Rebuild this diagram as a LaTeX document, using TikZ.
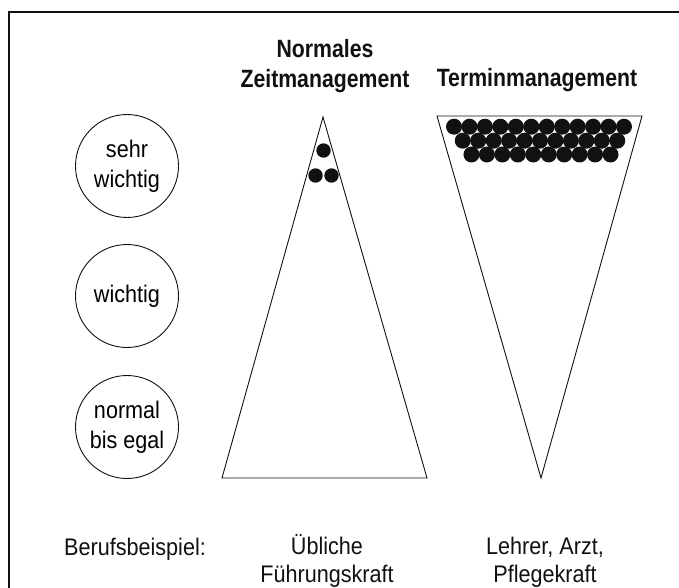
\documentclass[tikz,border=0pt]{standalone}
\usepackage{fontspec}
\setmainfont{Liberation Sans}
\newfontfamily\headfont[FakeStretch=0.85]{Liberation Sans}
\newfontfamily\bodyfont[FakeStretch=0.9]{Liberation Sans}
\usetikzlibrary{positioning}
\definecolor{inkblack}{HTML}{111111}

\tikzset{
  level/.style={draw=inkblack, circle, line width=0.9pt, minimum size=103pt,
    inner sep=0pt, align=center, font=\bodyfont\fontsize{24}{30}\selectfont},
  headtext/.style={font=\headfont\bfseries\fontsize{25}{30}\selectfont,
    align=center, inner sep=0pt, text=inkblack},
  bodytext/.style={font=\bodyfont\fontsize{24}{28}\selectfont, align=center,
    inner sep=0pt, text=inkblack},
  shapeline/.style={draw=inkblack, line width=0.9pt, line join=miter},
  ball/.style={fill=inkblack}
}

\begin{document}
\begin{tikzpicture}[x=1pt, y=-1pt]
    \useasboundingbox (0,0) rectangle (679,588);
    \fill[white] (0,0) rectangle (679,588);
    \draw[inkblack, line width=1.3pt] (9,588) -- (9,12) -- (679,12);

    % Wichtigkeit
    \node[level] (sehr) at (127,166) {sehr\\wichtig};
    \node[level] (wichtig) at (127,296) {wichtig};
    \node[level] (egal) at (127,427) {normal\\bis egal};

    % Normales Zeitmanagement
    \coordinate (zspitze) at (323,117);
    \coordinate (zlinks) at (222,478);
    \coordinate (zrechts) at (427,478);
    \draw[shapeline] (zspitze) -- (zrechts) -- (zlinks) -- cycle;
    \fill[ball] (323.5,150.5) circle (7.2pt);
    \fill[ball] (315.5,175.5) circle (7.2pt);
    \fill[ball] (331.5,175.5) circle (7.2pt);

    % Terminmanagement
    \coordinate (tlinks) at (437,116);
    \coordinate (trechts) at (642,116);
    \coordinate (tspitze) at (541,478);
    \draw[shapeline] (tlinks) -- (trechts) -- (tspitze) -- cycle;
    \foreach \i in {0,...,11}
      \fill[ball] (539+\i*15.45-5.5*15.45,126.7) circle (8pt);
    \foreach \i in {0,...,10}
      \fill[ball] (540+\i*15.45-5*15.45,140.7) circle (8pt);
    \foreach \i in {0,...,9}
      \fill[ball] (541+\i*15.45-4.5*15.45,154.5) circle (8pt);

    \node[headtext, anchor=north] (zeit) at (325,39) {Normales\\Zeitmanagement};
    \node[headtext, anchor=base] (termin) at (537,87) {Terminmanagement};

    \node[bodytext, anchor=base] (beruf) at (135,555) {Berufsbeispiel:};
    \node[bodytext, anchor=north] (fuehrung) at (327,534) {\"Ubliche\\F\"uhrungskraft};
    \node[bodytext, anchor=north] (lehrer) at (545,537) {Lehrer, Arzt,\\Pflegekraft};
  \end{tikzpicture}
\end{document}
